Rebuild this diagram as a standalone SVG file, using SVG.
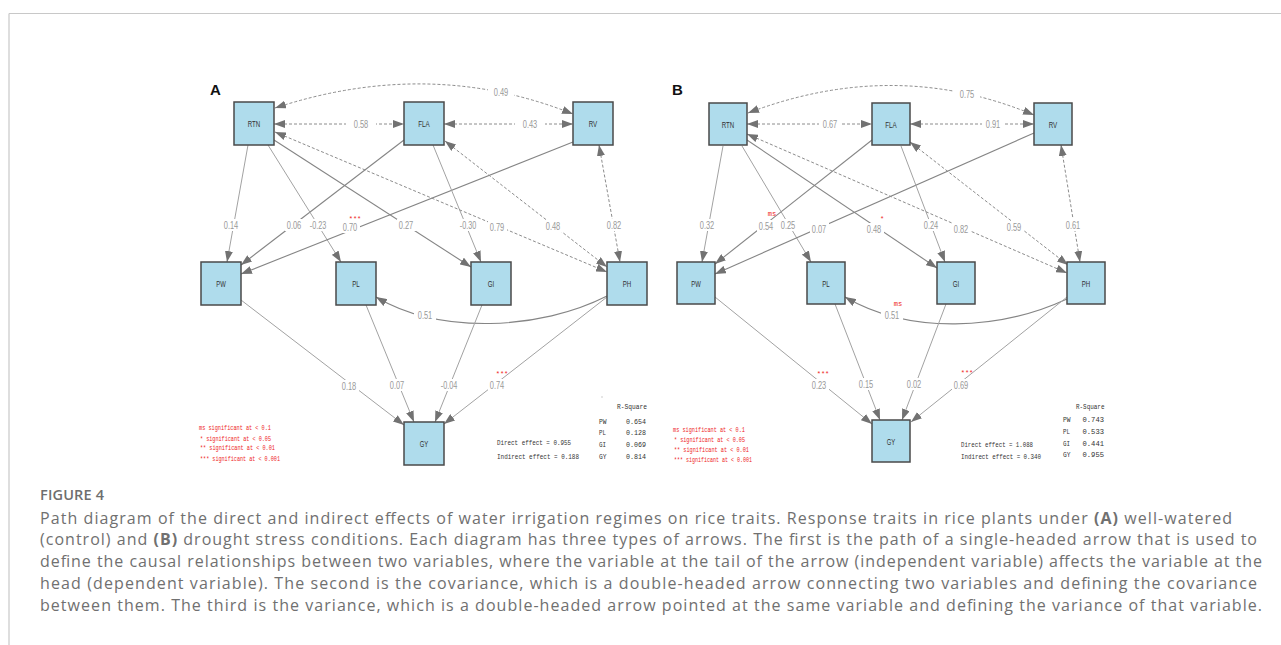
<svg xmlns="http://www.w3.org/2000/svg" width="1281" height="645" viewBox="0 0 1281 645">
<style>
.nd{fill:#afdcec;stroke:#4a4a4a;stroke-width:1.5}
.nt{font-family:"Liberation Sans",Arial,sans-serif;font-size:9px;fill:#333;text-anchor:middle}
.s{fill:none;stroke:#a2a2a2;stroke-width:1}
.s2{fill:none;stroke:#858585;stroke-width:1.1}
.d{fill:none;stroke:#8c8c8c;stroke-width:1;stroke-dasharray:3 2}
.lb{fill:#fff}
.el{font-family:"Liberation Sans",Arial,sans-serif;font-size:10.5px;fill:#999;text-anchor:middle}
.rd{font-family:"Liberation Mono",monospace;font-size:7px;fill:#ee2424}
.rs{font-family:"Liberation Mono",monospace;font-size:7px;fill:#ee2424;text-anchor:middle}
.mo{font-family:"Liberation Mono",monospace;font-size:7.8px;fill:#333}
.pl{font-family:"Liberation Sans",Arial,sans-serif;font-size:15px;font-weight:bold;fill:#111}
.cap{font-family:"Open Sans","Liberation Sans",sans-serif;font-size:16px;fill:#707070}
.fig{font-family:"Open Sans","Liberation Sans",sans-serif;font-size:14.5px;font-weight:600;fill:#6e6e6e}
</style>
<defs>
<marker id="ah" viewBox="0 0 11 8" refX="11" refY="4" markerWidth="11" markerHeight="8" markerUnits="userSpaceOnUse" orient="auto-start-reverse"><path d="M0,0 L11,4 L0,8 z" fill="#727272"/></marker>
</defs>
<rect x="0" y="0" width="1281" height="645" fill="#fff"/>
<g id="frame" stroke="#c8c8c8" stroke-width="1.2" fill="none">
<line x1="9" y1="13.5" x2="1281" y2="13.5"/>
<line x1="9" y1="13.5" x2="9" y2="645"/>
</g>
<text class="pl" x="210" y="95">A</text>
<text class="pl" x="672" y="95">B</text>

<g id="connectors-A">
<path class="s" d="M248,145 L227,262" marker-end="url(#ah)"/>
<path class="s2" d="M404,140 L241,265" marker-end="url(#ah)"/>
<path class="s" d="M268,145 L341,262" marker-end="url(#ah)"/>
<path class="s2" d="M573,142 L241,274" marker-end="url(#ah)"/>
<path class="s2" d="M274,140 L471,267" marker-end="url(#ah)"/>
<path class="s" d="M433,145 L481,262" marker-end="url(#ah)"/>
<path class="d" d="M275,132 L607,272" marker-start="url(#ah)" marker-end="url(#ah)"/>
<path class="d" d="M445,141 L607,267" marker-start="url(#ah)" marker-end="url(#ah)"/>
<path class="d" d="M599,145 L620,262" marker-start="url(#ah)" marker-end="url(#ah)"/>
<path class="d" d="M274,124 L404,124" marker-start="url(#ah)" marker-end="url(#ah)"/>
<path class="d" d="M444,124 L573,124" marker-start="url(#ah)" marker-end="url(#ah)"/>
<path class="d" d="M275,108 Q430,57 573,114" marker-start="url(#ah)" marker-end="url(#ah)"/>
<path class="s2" d="M607,296 C540,330 440,335 376,297" marker-end="url(#ah)"/>
<path class="s" d="M241,300 L404,425" marker-end="url(#ah)"/>
<path class="s" d="M366,305 L414,422" marker-end="url(#ah)"/>
<path class="s" d="M482,305 L435,422" marker-end="url(#ah)"/>
<path class="s" d="M607,297 L444,424" marker-end="url(#ah)"/>
<g id="labels-A">
<rect class="lb" x="222" y="219" width="19" height="12"/><text class="el" x="231" y="229" textLength="14.5" lengthAdjust="spacingAndGlyphs">0.14</text>
<rect class="lb" x="285" y="219" width="19" height="12"/><text class="el" x="294" y="229" textLength="14.5" lengthAdjust="spacingAndGlyphs">0.06</text>
<rect class="lb" x="308" y="219" width="21" height="12"/><text class="el" x="318" y="229" textLength="16.5" lengthAdjust="spacingAndGlyphs">-0.23</text>
<rect class="lb" x="341" y="221" width="19" height="12"/><text class="el" x="350" y="231" textLength="14.5" lengthAdjust="spacingAndGlyphs">0.70</text>
<rect class="lb" x="397" y="219" width="19" height="12"/><text class="el" x="406" y="229" textLength="14.5" lengthAdjust="spacingAndGlyphs">0.27</text>
<rect class="lb" x="458" y="219" width="21" height="12"/><text class="el" x="468" y="229" textLength="16.5" lengthAdjust="spacingAndGlyphs">-0.30</text>
<rect class="lb" x="488" y="221" width="19" height="12"/><text class="el" x="497" y="231" textLength="14.5" lengthAdjust="spacingAndGlyphs">0.79</text>
<rect class="lb" x="544" y="220" width="19" height="12"/><text class="el" x="553" y="230" textLength="14.5" lengthAdjust="spacingAndGlyphs">0.48</text>
<rect class="lb" x="605" y="219" width="19" height="12"/><text class="el" x="614" y="229" textLength="14.5" lengthAdjust="spacingAndGlyphs">0.82</text>
<rect class="lb" x="346" y="118" width="30" height="12"/><text class="el" x="361" y="128" textLength="14.5" lengthAdjust="spacingAndGlyphs">0.58</text>
<rect class="lb" x="515" y="118" width="30" height="12"/><text class="el" x="530" y="128" textLength="14.5" lengthAdjust="spacingAndGlyphs">0.43</text>
<rect class="lb" x="488" y="85" width="26" height="13"/><text class="el" x="501" y="96" textLength="14.5" lengthAdjust="spacingAndGlyphs">0.49</text>
<rect class="lb" x="414" y="309" width="22" height="12"/><text class="el" x="425" y="319" textLength="14.5" lengthAdjust="spacingAndGlyphs">0.51</text>
<rect class="lb" x="340" y="380" width="19" height="12"/><text class="el" x="349" y="390" textLength="14.5" lengthAdjust="spacingAndGlyphs">0.18</text>
<rect class="lb" x="388" y="379" width="19" height="12"/><text class="el" x="397" y="389" textLength="14.5" lengthAdjust="spacingAndGlyphs">0.07</text>
<rect class="lb" x="439" y="379" width="21" height="12"/><text class="el" x="449" y="389" textLength="16.5" lengthAdjust="spacingAndGlyphs">-0.04</text>
<rect class="lb" x="488" y="379" width="19" height="12"/><text class="el" x="497" y="389" textLength="14.5" lengthAdjust="spacingAndGlyphs">0.74</text>
<text class="rs" x="355" y="221">***</text>
<text class="rs" x="502" y="376">***</text>
</g>
</g>

<g id="connectors-B">
<path class="s" d="M723,146 L702,262" marker-end="url(#ah)"/>
<path class="s2" d="M872,140 L715,264" marker-end="url(#ah)"/>
<path class="s" d="M742,146 L811,262" marker-end="url(#ah)"/>
<path class="s2" d="M1034,133 L715,274" marker-end="url(#ah)"/>
<path class="s2" d="M747,140 L937,268" marker-end="url(#ah)"/>
<path class="s" d="M901,146 L945,262" marker-end="url(#ah)"/>
<path class="d" d="M747,134 L1067,273" marker-start="url(#ah)" marker-end="url(#ah)"/>
<path class="d" d="M910,142 L1068,265" marker-start="url(#ah)" marker-end="url(#ah)"/>
<path class="d" d="M1061,145 L1080,262" marker-start="url(#ah)" marker-end="url(#ah)"/>
<path class="d" d="M747,124 L872,124" marker-start="url(#ah)" marker-end="url(#ah)"/>
<path class="d" d="M910,124 L1034,124" marker-start="url(#ah)" marker-end="url(#ah)"/>
<path class="d" d="M748,113 Q895,57 1034,115" marker-start="url(#ah)" marker-end="url(#ah)"/>
<path class="s2" d="M1067,299 C1000,330 910,335 845,297" marker-end="url(#ah)"/>
<path class="s" d="M715,297 L872,424" marker-end="url(#ah)"/>
<path class="s" d="M835,304 L880,420" marker-end="url(#ah)"/>
<path class="s" d="M946,304 L902,420" marker-end="url(#ah)"/>
<path class="s" d="M1067,297 L911,422" marker-end="url(#ah)"/>
<g id="labels-B">
<rect class="lb" x="698" y="219" width="19" height="12"/><text class="el" x="707" y="229" textLength="14.5" lengthAdjust="spacingAndGlyphs">0.32</text>
<rect class="lb" x="757" y="220" width="19" height="12"/><text class="el" x="766" y="230" textLength="14.5" lengthAdjust="spacingAndGlyphs">0.54</text>
<rect class="lb" x="779" y="219" width="19" height="12"/><text class="el" x="788" y="229" textLength="14.5" lengthAdjust="spacingAndGlyphs">0.25</text>
<rect class="lb" x="810" y="223" width="19" height="12"/><text class="el" x="819" y="233" textLength="14.5" lengthAdjust="spacingAndGlyphs">0.07</text>
<rect class="lb" x="865" y="223" width="19" height="12"/><text class="el" x="874" y="233" textLength="14.5" lengthAdjust="spacingAndGlyphs">0.48</text>
<rect class="lb" x="922" y="219" width="19" height="12"/><text class="el" x="931" y="229" textLength="14.5" lengthAdjust="spacingAndGlyphs">0.24</text>
<rect class="lb" x="952" y="223" width="19" height="12"/><text class="el" x="961" y="233" textLength="14.5" lengthAdjust="spacingAndGlyphs">0.82</text>
<rect class="lb" x="1005" y="221" width="19" height="12"/><text class="el" x="1014" y="231" textLength="14.5" lengthAdjust="spacingAndGlyphs">0.59</text>
<rect class="lb" x="1064" y="219" width="19" height="12"/><text class="el" x="1073" y="229" textLength="14.5" lengthAdjust="spacingAndGlyphs">0.61</text>
<rect class="lb" x="819" y="118" width="22" height="12"/><text class="el" x="830" y="128" textLength="14.5" lengthAdjust="spacingAndGlyphs">0.67</text>
<rect class="lb" x="982" y="118" width="22" height="12"/><text class="el" x="993" y="128" textLength="14.5" lengthAdjust="spacingAndGlyphs">0.91</text>
<rect class="lb" x="954" y="87" width="26" height="13"/><text class="el" x="967" y="98" textLength="14.5" lengthAdjust="spacingAndGlyphs">0.75</text>
<rect class="lb" x="881" y="309" width="22" height="12"/><text class="el" x="892" y="319" textLength="14.5" lengthAdjust="spacingAndGlyphs">0.51</text>
<rect class="lb" x="810" y="379" width="19" height="12"/><text class="el" x="819" y="389" textLength="14.5" lengthAdjust="spacingAndGlyphs">0.23</text>
<rect class="lb" x="857" y="378" width="19" height="12"/><text class="el" x="866" y="388" textLength="14.5" lengthAdjust="spacingAndGlyphs">0.15</text>
<rect class="lb" x="905" y="378" width="19" height="12"/><text class="el" x="914" y="388" textLength="14.5" lengthAdjust="spacingAndGlyphs">0.02</text>
<rect class="lb" x="952" y="379" width="19" height="12"/><text class="el" x="961" y="389" textLength="14.5" lengthAdjust="spacingAndGlyphs">0.69</text>
<text class="rs" x="772" y="216">ms</text>
<text class="rs" x="882" y="221">*</text>
<text class="rs" x="898" y="306">ms</text>
<text class="rs" x="823" y="376">***</text>
<text class="rs" x="967" y="375">***</text>
</g>
</g>

<g id="A-RTN"><rect class="nd" x="234" y="102" width="40" height="43"/><text class="nt" x="254" y="127" textLength="12.5" lengthAdjust="spacingAndGlyphs">RTN</text></g>
<g id="A-FLA"><rect class="nd" x="404" y="102" width="40" height="43"/><text class="nt" x="424" y="127" textLength="11.5" lengthAdjust="spacingAndGlyphs">FLA</text></g>
<g id="A-RV"><rect class="nd" x="573" y="102" width="40" height="43"/><text class="nt" x="593" y="127" textLength="8.5" lengthAdjust="spacingAndGlyphs">RV</text></g>
<g id="A-PW"><rect class="nd" x="201" y="262" width="40" height="43"/><text class="nt" x="221" y="287" textLength="9.5" lengthAdjust="spacingAndGlyphs">PW</text></g>
<g id="A-PL"><rect class="nd" x="336" y="262" width="40" height="43"/><text class="nt" x="356" y="287" textLength="7.5" lengthAdjust="spacingAndGlyphs">PL</text></g>
<g id="A-GI"><rect class="nd" x="471" y="262" width="40" height="43"/><text class="nt" x="491" y="287" textLength="6.5" lengthAdjust="spacingAndGlyphs">GI</text></g>
<g id="A-PH"><rect class="nd" x="607" y="262" width="40" height="43"/><text class="nt" x="627" y="287" textLength="8.5" lengthAdjust="spacingAndGlyphs">PH</text></g>
<g id="A-GY"><rect class="nd" x="404" y="422" width="40" height="43"/><text class="nt" x="424" y="447" textLength="8.5" lengthAdjust="spacingAndGlyphs">GY</text></g>

<g id="B-RTN"><rect class="nd" x="709" y="103" width="38" height="42"/><text class="nt" x="728" y="127.5" textLength="12.5" lengthAdjust="spacingAndGlyphs">RTN</text></g>
<g id="B-FLA"><rect class="nd" x="872" y="103" width="38" height="42"/><text class="nt" x="891" y="127.5" textLength="11.5" lengthAdjust="spacingAndGlyphs">FLA</text></g>
<g id="B-RV"><rect class="nd" x="1034" y="103" width="38" height="42"/><text class="nt" x="1053" y="127.5" textLength="8.5" lengthAdjust="spacingAndGlyphs">RV</text></g>
<g id="B-PW"><rect class="nd" x="677" y="262" width="38" height="42"/><text class="nt" x="696" y="286.5" textLength="9.5" lengthAdjust="spacingAndGlyphs">PW</text></g>
<g id="B-PL"><rect class="nd" x="807" y="262" width="38" height="42"/><text class="nt" x="826" y="286.5" textLength="7.5" lengthAdjust="spacingAndGlyphs">PL</text></g>
<g id="B-GI"><rect class="nd" x="937" y="262" width="38" height="42"/><text class="nt" x="956" y="286.5" textLength="6.5" lengthAdjust="spacingAndGlyphs">GI</text></g>
<g id="B-PH"><rect class="nd" x="1067" y="262" width="38" height="42"/><text class="nt" x="1086" y="286.5" textLength="8.5" lengthAdjust="spacingAndGlyphs">PH</text></g>
<g id="B-GY"><rect class="nd" x="872" y="420" width="38" height="42"/><text class="nt" x="891" y="444.5" textLength="8.5" lengthAdjust="spacingAndGlyphs">GY</text></g>

<g id="legend-A">
<text class="rd" x="199" y="430" textLength="72" lengthAdjust="spacingAndGlyphs">ms significant at &lt; 0.1</text>
<text class="rd" x="200" y="440.5" textLength="71" lengthAdjust="spacingAndGlyphs">* significant at &lt; 0.05</text>
<text class="rd" x="200" y="450" textLength="75" lengthAdjust="spacingAndGlyphs">** significant at &lt; 0.01</text>
<text class="rd" x="200" y="460.5" textLength="80" lengthAdjust="spacingAndGlyphs">*** significant at &lt; 0.001</text>
<text class="mo" x="497" y="445" textLength="74" lengthAdjust="spacingAndGlyphs">Direct effect = 0.955</text>
<text class="mo" x="497" y="458.5" textLength="82" lengthAdjust="spacingAndGlyphs">Indirect effect = 0.188</text>
<circle cx="602" cy="397" r="0.7" fill="#bbb"/>
<text class="mo" x="617" y="409" textLength="30" lengthAdjust="spacingAndGlyphs">R-Square</text>
<text class="mo" x="599" y="423.5" textLength="7.5" lengthAdjust="spacingAndGlyphs">PW</text>
<text class="mo" x="626" y="423.5" textLength="20" lengthAdjust="spacingAndGlyphs">0.654</text>
<text class="mo" x="599" y="435" textLength="7" lengthAdjust="spacingAndGlyphs">PL</text>
<text class="mo" x="626" y="435" textLength="20" lengthAdjust="spacingAndGlyphs">0.128</text>
<text class="mo" x="599" y="446.5" textLength="7" lengthAdjust="spacingAndGlyphs">GI</text>
<text class="mo" x="626" y="446.5" textLength="20" lengthAdjust="spacingAndGlyphs">0.069</text>
<text class="mo" x="599" y="458.5" textLength="7.5" lengthAdjust="spacingAndGlyphs">GY</text>
<text class="mo" x="626" y="458.5" textLength="20" lengthAdjust="spacingAndGlyphs">0.814</text>
</g>

<g id="legend-B">
<text class="rd" x="673" y="431.5" textLength="72" lengthAdjust="spacingAndGlyphs">ms significant at &lt; 0.1</text>
<text class="rd" x="674" y="441.5" textLength="71" lengthAdjust="spacingAndGlyphs">* significant at &lt; 0.05</text>
<text class="rd" x="674" y="451.5" textLength="75" lengthAdjust="spacingAndGlyphs">** significant at &lt; 0.01</text>
<text class="rd" x="674" y="461.5" textLength="78" lengthAdjust="spacingAndGlyphs">*** significant at &lt; 0.001</text>
<text class="mo" x="961" y="446.5" textLength="72" lengthAdjust="spacingAndGlyphs">Direct effect = 1.088</text>
<text class="mo" x="961" y="459" textLength="80" lengthAdjust="spacingAndGlyphs">Indirect effect = 0.340</text>
<text class="mo" x="1076" y="409" textLength="28.5" lengthAdjust="spacingAndGlyphs">R-Square</text>
<text class="mo" x="1063" y="422" textLength="7.5" lengthAdjust="spacingAndGlyphs">PW</text>
<text class="mo" x="1082.5" y="422" textLength="21.5" lengthAdjust="spacingAndGlyphs">0.743</text>
<text class="mo" x="1063" y="433.5" textLength="7" lengthAdjust="spacingAndGlyphs">PL</text>
<text class="mo" x="1082.5" y="433.5" textLength="21.5" lengthAdjust="spacingAndGlyphs">0.533</text>
<text class="mo" x="1063" y="445.5" textLength="7" lengthAdjust="spacingAndGlyphs">GI</text>
<text class="mo" x="1082.5" y="445.5" textLength="21.5" lengthAdjust="spacingAndGlyphs">0.441</text>
<text class="mo" x="1063" y="457" textLength="7.5" lengthAdjust="spacingAndGlyphs">GY</text>
<text class="mo" x="1082.5" y="457" textLength="21.5" lengthAdjust="spacingAndGlyphs">0.955</text>
</g>

<g id="caption">
<text class="fig" x="40" y="500" textLength="64">FIGURE 4</text>
<text class="cap" x="40" y="523.5" textLength="1192">Path diagram of the direct and indirect effects of water irrigation regimes on rice traits. Response traits in rice plants under <tspan font-weight="bold">(A)</tspan> well-watered</text>
<text class="cap" x="40" y="545.3" textLength="1217">(control) and <tspan font-weight="bold">(B)</tspan> drought stress conditions. Each diagram has three types of arrows. The first is the path of a single-headed arrow that is used to</text>
<text class="cap" x="40" y="567" textLength="1222">define the causal relationships between two variables, where the variable at the tail of the arrow (independent variable) affects the variable at the</text>
<text class="cap" x="40" y="588.8" textLength="1217">head (dependent variable). The second is the covariance, which is a double-headed arrow connecting two variables and defining the covariance</text>
<text class="cap" x="40" y="610.5" textLength="1222">between them. The third is the variance, which is a double-headed arrow pointed at the same variable and defining the variance of that variable.</text>
</g>
</svg>
